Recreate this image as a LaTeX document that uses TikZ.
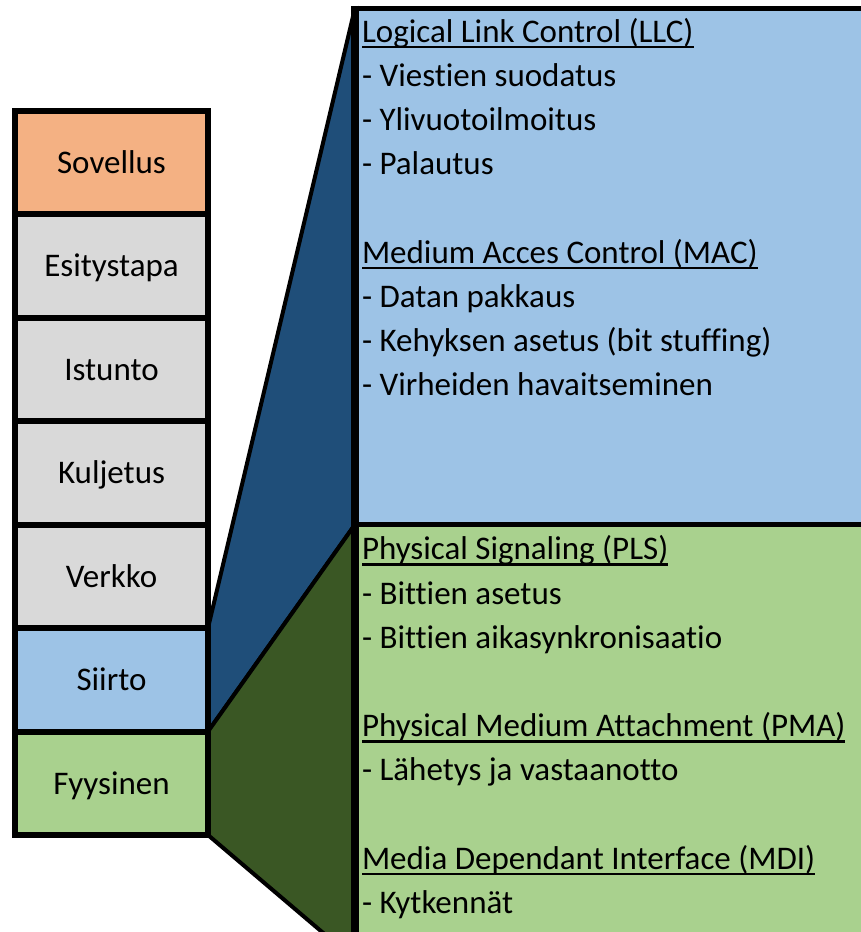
\documentclass[tikz,border=0pt]{standalone}
\usepackage{fontspec}
\setmainfont{Carlito}[Ligatures={NoCommon}]
\usetikzlibrary{backgrounds}
\definecolor{cOrange}{HTML}{F4B183}
\definecolor{cGray}{HTML}{D9D9D9}
\definecolor{cLBlue}{HTML}{9DC3E6}
\definecolor{cLGreen}{HTML}{A9D18E}
\definecolor{cDBlue}{HTML}{1F4E79}
\definecolor{cDGreen}{HTML}{3A5724}
\newsavebox\ulbox
\newcommand\ulin[1]{\sbox\ulbox{#1}\rlap{\rule[-6pt]{\wd\ulbox}{2.4pt}}\usebox\ulbox}
\begin{document}
\begin{tikzpicture}[x=1pt,y=-1pt,
  layerbox/.style={draw=black, line width=6pt, minimum width=193pt, minimum height=103.5pt,
    inner sep=0pt, outer sep=0pt, font=\fontsize{33}{40}\selectfont, text height=22pt, text depth=0pt},
  panel/.style={draw=black, line width=5pt, minimum width=545pt, inner sep=0pt, outer sep=0pt},
  wedge/.style={draw=black, line width=4pt, line join=round},
  txt/.style={anchor=base west, inner sep=0pt, outer sep=0pt, font=\fontsize{33}{40}\selectfont}]
\useasboundingbox (0,0) rectangle (860,932);
% left stack
\node[layerbox, fill=cOrange] (sov) at (111.5,162.25) {Sovellus};
\node[layerbox, fill=cGray] (esi) at (111.5,265.75) {Esitystapa};
\node[layerbox, fill=cGray] (ist) at (111.5,369.25) {Istunto};
\node[layerbox, fill=cGray] (kul) at (111.5,472.75) {Kuljetus};
\node[layerbox, fill=cGray] (ver) at (111.5,576.25) {Verkko};
\node[layerbox, fill=cLBlue] (sii) at (111.5,679.75) {Siirto};
\node[layerbox, fill=cLGreen] (fyy) at (111.5,783.25) {Fyysinen};
% right panels
\node[panel, fill=cLBlue, minimum height=516.5pt] (llc) at (627.5,266.25) {};
\node[panel, fill=cLGreen, minimum height=435.5pt] (phy) at (627.5,742.25) {};
\draw[line width=8.5pt, shorten <=-2.5pt] (llc.north west) -- (phy.south west);
% wedges
\begin{scope}[on background layer]
\draw[wedge, fill=cDBlue] (sii.north east) -- (llc.north west) -- (llc.south west) -- (sii.south east) -- cycle;
\draw[wedge, fill=cDGreen] (sii.south east) -- (phy.north west) -- (phy.south west) -- (fyy.south east) -- cycle;
\end{scope}
% texts upper panel
\node[txt] (a1) at (362,42) {\ulin{Logical Link Control (LLC)}};
\node[txt] (a2) at (362,86.2) {- Viestien suodatus};
\node[txt] (a3) at (362,130.4) {- Ylivuotoilmoitus};
\node[txt] (a4) at (362,174.6) {- Palautus};
\node[txt] (a5) at (362,263) {\ulin{Medium Acces Control (MAC)}};
\node[txt] (a6) at (362,307.2) {- Datan pakkaus};
\node[txt] (a7) at (362,351.4) {- Kehyksen asetus (bit stuffing)};
\node[txt] (a8) at (362,395.6) {- Virheiden havaitseminen};
% texts lower panel
\node[txt] (b1) at (362,559.8) {\ulin{Physical Signaling (PLS)}};
\node[txt] (b2) at (362,604) {- Bittien asetus};
\node[txt] (b3) at (362,648.2) {- Bittien aikasynkronisaatio};
\node[txt] (b4) at (362,736.6) {\ulin{Physical Medium Attachment (PMA)}};
\node[txt] (b5) at (362,780.8) {- Lähetys ja vastaanotto};
\node[txt] (b6) at (362,869.2) {\ulin{Media Dependant Interface (MDI)}};
\node[txt] (b7) at (362,913.4) {- Kytkennät};
\end{tikzpicture}
\end{document}
